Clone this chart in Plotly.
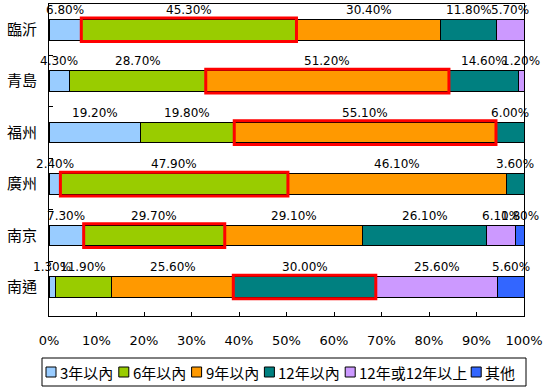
import plotly.graph_objects as go

cities = ["臨沂", "青島", "福州", "廣州", "南京", "南通"]
series_names = ["3年以內", "6年以內", "9年以內", "12年以內", "12年或12年以上", "其他"]
colors = ["#99CCFF", "#99CC00", "#FF9900", "#008080", "#CC99FF", "#3366FF"]

v_3y = [6.8, 4.3, 19.2, 2.4, 7.3, 1.3]
v_6y = [45.3, 28.7, 19.8, 47.9, 29.7, 11.9]
v_9y = [30.4, 51.2, 55.1, 46.1, 29.1, 25.6]
v_12y = [11.8, 14.6, 6.0, 3.6, 26.1, 30.0]
v_12plus = [5.7, 1.2, 0.0, 0.0, 6.1, 25.6]
v_other = [0.0, 0.0, 0.0, 0.0, 1.8, 5.6]
series = [v_3y, v_6y, v_9y, v_12y, v_12plus, v_other]

# index of the highlighted (red-boxed) series for each city
highlight = [1, 2, 2, 1, 1, 3]

W, H = 559, 389
ML, MR, MT, MB = 49, 35, 4, 73
PW, PH = W - ML - MR, H - MT - MB


def px_to_paper_x(px):
    return (px - ML) / PW


def px_to_paper_y(py):
    return (H - MB - py) / PH


fig = go.Figure()
for name, vals, col in zip(series_names, series, colors):
    fig.add_trace(go.Bar(
        y=cities, x=vals, name=name, orientation="h",
        marker=dict(color=col, line=dict(color="black", width=1)),
        width=0.4, showlegend=False, hoverinfo="skip",
    ))

annotations = []
shapes = []
for ci, city in enumerate(cities):
    cum = 0.0
    for si, vals in enumerate(series):
        v = vals[ci]
        if v > 0:
            annotations.append(dict(
                x=cum + v / 2, y=city, text=f"{v:.2f}%", showarrow=False,
                yshift=20, font=dict(size=12, color="black", family="DejaVu Sans"),
            ))
        if si == highlight[ci]:
            shapes.append(dict(
                type="rect", xref="x", yref="y",
                x0=cum, x1=cum + v, y0=ci - 0.23, y1=ci + 0.23,
                line=dict(color="#FF0000", width=3), fillcolor="rgba(0,0,0,0)",
            ))
        cum += v

# custom legend (box + swatches + labels), laid out in pixels
leg_left, leg_right, leg_top, leg_bot = 42, 526, 358, 386
shapes.append(dict(
    type="rect", xref="paper", yref="paper",
    x0=px_to_paper_x(leg_left), x1=px_to_paper_x(leg_right),
    y0=px_to_paper_y(leg_bot), y1=px_to_paper_y(leg_top),
    line=dict(color="black", width=1), fillcolor="white", layer="below",
))


def text_w(s):
    return sum(8.0 if ord(c) < 128 else 14.6 for c in s)


cursor = 46
sw_top, sw_bot = 367, 377
for name, col in zip(series_names, colors):
    shapes.append(dict(
        type="rect", xref="paper", yref="paper",
        x0=px_to_paper_x(cursor), x1=px_to_paper_x(cursor + 10),
        y0=px_to_paper_y(sw_bot), y1=px_to_paper_y(sw_top),
        line=dict(color="black", width=1), fillcolor=col,
    ))
    annotations.append(dict(
        xref="paper", yref="paper", x=px_to_paper_x(cursor + 12),
        y=px_to_paper_y(372), xanchor="left", yanchor="middle",
        text=name, showarrow=False,
        font=dict(size=15, family="Noto Sans CJK TC", color="black"),
    ))
    cursor += 10 + 3 + text_w(name) + 8

fig.update_layout(
    barmode="stack",
    width=W, height=H,
    margin=dict(l=ML, r=MR, t=MT, b=MB),
    paper_bgcolor="white", plot_bgcolor="white",
    font=dict(family="DejaVu Sans", color="black"),
    annotations=annotations,
    shapes=shapes,
    showlegend=False,
)
fig.update_xaxes(
    range=[0, 100], dtick=10, ticksuffix="%",
    ticks="inside", ticklen=4, tickcolor="black",
    showline=True, linecolor="black", linewidth=1, mirror=True,
    showgrid=False, zeroline=False, automargin=False,
    tickfont=dict(size=13, family="DejaVu Sans"),
    ticklabelstandoff=12,
)
fig.update_yaxes(
    autorange="reversed", tickson="boundaries",
    ticks="inside", ticklen=4, tickcolor="black",
    showline=True, linecolor="black", linewidth=1, mirror=True,
    showgrid=False, automargin=False,
    tickfont=dict(size=15, family="Noto Sans CJK TC"),
    ticklabelstandoff=8,
)

fig.write_html(
    "out.html",
    config={"displayModeBar": False, "staticPlot": True},
    post_script="document.body.style.margin='0px';document.body.style.overflow='hidden';",
)
